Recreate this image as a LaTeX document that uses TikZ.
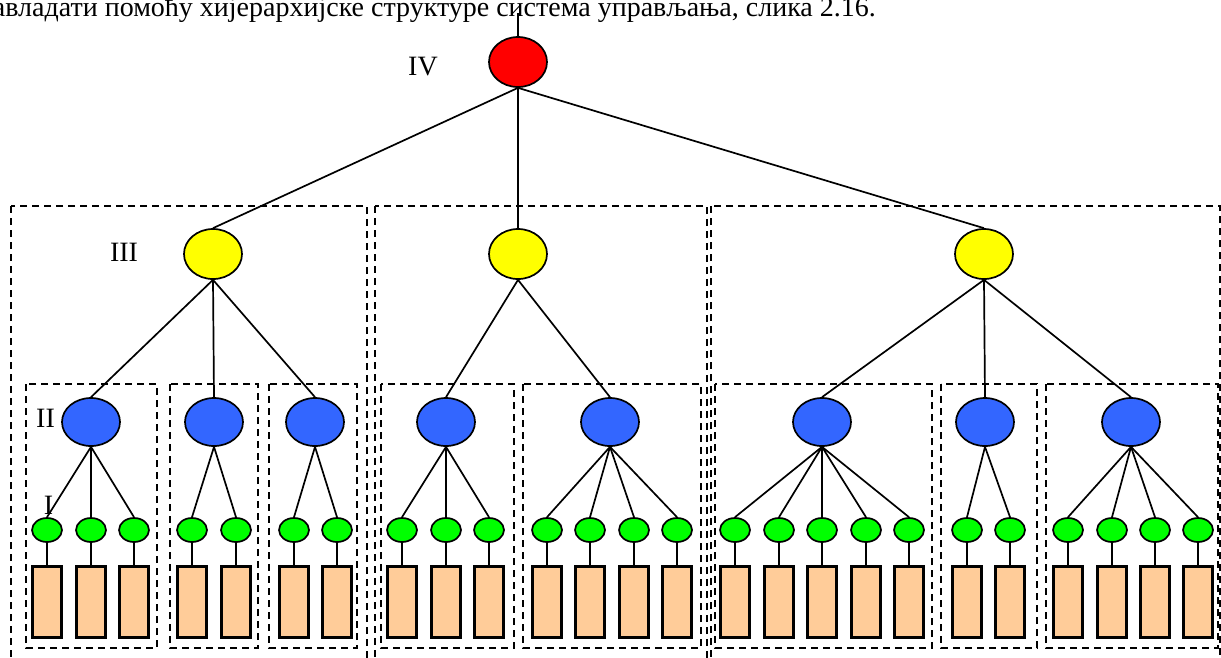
\documentclass[tikz,border=0pt]{standalone}
\usepackage{fontspec}
\setmainfont{Liberation Serif}
\usetikzlibrary{shapes.geometric}
\definecolor{lvred}{HTML}{FF0000}
\definecolor{lvyellow}{HTML}{FFFF00}
\definecolor{lvblue}{HTML}{3366FF}
\definecolor{lvgreen}{HTML}{00FF00}
\definecolor{unitfill}{HTML}{FFCC99}
\begin{document}
\begin{tikzpicture}[x=1pt,y=-1pt,
  lvnode/.style={ellipse,draw=black,line width=1.7pt,inner sep=0pt},
  lvfour/.style={lvnode,fill=lvred,minimum width=58pt,minimum height=50pt},
  lvthree/.style={lvnode,fill=lvyellow,minimum width=58pt,minimum height=50pt},
  lvtwo/.style={lvnode,fill=lvblue,minimum width=58pt,minimum height=48pt},
  lvone/.style={lvnode,fill=lvgreen,minimum width=30pt,minimum height=24pt},
  unit/.style={rectangle,draw=black,line width=2.2pt,fill=unitfill,inner sep=0pt,minimum width=29pt,minimum height=71pt},
  link/.style={draw=black,line width=1.7pt},
  group/.style={draw=black,line width=1.8pt,dash pattern=on 7pt off 5pt},
  lvlabel/.style={font=\fontsize{28}{32}\selectfont,anchor=base,inner sep=0pt}]
\clip (0,0) rectangle (1221,657);

% caption line running above the tree
\node[font=\fontsize{28}{32}\selectfont,anchor=base east,inner sep=0pt] (caption) at (876,16)
  {савладати помоћу хијерархијске структуре система управљања, слика 2.16.};

% subsystem frames
\draw[group] (11,206) rectangle (367,680);
\draw[group] (375,206) rectangle (707,680);
\draw[group] (711,206) rectangle (1220,680);
\foreach \xa/\xb in {26/157,170/258,269/357,381/514,523/701,715/932,941/1037,1046/1218}
  \draw[group] (\xa,384) rectangle (\xb,648);

% level labels
\node[lvlabel] (lIV) at (423,75) {IV};
\node[lvlabel] (lIII) at (124,261) {III};
\node[lvlabel] (lII) at (45.5,427) {II};
\node[lvlabel] (lI) at (48.5,514) {I};

% level IV and III
\node[lvfour] (top) at (518,62) {};
\coordinate (feed) at (518,13);
\draw[link] (feed) -- (top.north);
\node[lvthree] (yA) at (213,254) {};
\node[lvthree] (yB) at (518,254) {};
\node[lvthree] (yC) at (984,254) {};
\foreach \y in {yA,yB,yC}
  \draw[link] (top.south) -- (\y.north);

% levels II and I with the controlled units
\foreach \bx/\yp/\leaves [count=\k] in {91/yA/{47,91,134}, 214/yA/{192,236}, 315/yA/{294,337},
    446/yB/{402,446,489}, 610/yB/{547,590,634,677},
    822/yC/{735,779,822,866,909}, 985/yC/{967,1010}, 1131/yC/{1068,1112,1155,1198}} {
  \node[lvtwo] (b\k) at (\bx,422) {};
  \draw[link] (\yp.south) -- (b\k.north);
  \foreach \gx [count=\j] in \leaves {
    \node[lvone] (g\k-\j) at (\gx,530) {};
    \node[unit] (u\k-\j) at (\gx,602) {};
    \draw[link] (b\k.south) -- (g\k-\j.north);
    \draw[link] (g\k-\j.south) -- (u\k-\j.north);
  }
}
\end{tikzpicture}
\end{document}
